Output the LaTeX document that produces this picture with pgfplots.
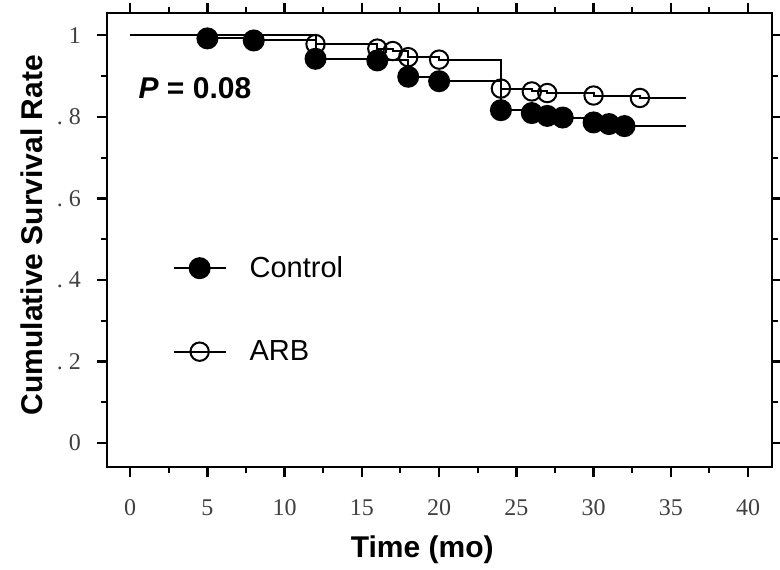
\documentclass[border=0pt]{standalone}
\usepackage{pgfplots}
\pgfplotsset{compat=1.18}
\usepackage{fontspec}
\setmainfont{Liberation Serif}
\newfontfamily\arial{Liberation Sans}
\begin{document}
\begin{tikzpicture}
\begin{axis}[
  scale only axis, width=332.5pt, height=227pt,
  xmin=-1.5, xmax=41.55, ymin=-0.058, ymax=1.055,
  xtick={0,5,...,40}, ytick={0,0.2,0.4,0.6,0.8,1},
  yticklabels={0,.\hspace{0.25em}2,.\hspace{0.25em}4,.\hspace{0.25em}6,.\hspace{0.25em}8,1},
  minor x tick num=1, minor y tick num=1,
  tick align=outside, xticklabel pos=left, yticklabel pos=left,
  major tick length=5pt, minor tick length=3pt,
  every major tick/.style={line width=1.2pt, black},
  every minor tick/.style={line width=1pt, black},
  axis line style={line width=1pt},
  /pgf/number format/assume math mode=true,
  ticklabel style={font=\fontsize{12}{14}\selectfont, text=black!75},
  xticklabel style={yshift=-8pt},
  yticklabel style={xshift=-4.5pt},
  xlabel={\arial\bfseries Time (mo)},
  ylabel={\arial\bfseries Cumulative Survival Rate},
  label style={font=\fontsize{15}{18}\selectfont},
  xlabel style={at={(axis description cs:0.474,-0.1828)}, anchor=center},
  ylabel style={at={(axis description cs:-0.1128,0.51)}, anchor=center},
  legend style={at={(axis cs:2.75,0.327)}, anchor=west, draw=none, fill=none,
    inner sep=0pt, outer sep=0pt,
    font=\arial\fontsize{14.5}{17}\selectfont, row sep=26pt,
    /tikz/every odd column/.style={column sep=9.5pt}},
  legend cell align=left,
  legend image code/.code={\draw[#1, mark indices={2}] plot coordinates {(0pt,0pt) (13pt,0pt) (26pt,0pt)};},
  reverse legend,
]
\addplot[black, line width=1pt, const plot, mark=o, mark size=4.6pt,
  mark options={solid, line width=1pt}, mark indices={2,3,4,5,6,7,8,9,10,11}]
  coordinates {(0,1) (12,0.978) (16,0.967) (17,0.961) (18,0.946) (20,0.940)
   (24,0.869) (26,0.862) (27,0.858) (30,0.852) (33,0.846) (36,0.846)};
\addlegendentry{ARB}
\addplot[black, line width=1pt, const plot, mark=*, mark size=5pt,
  mark options={solid, fill=black}, mark indices={2,3,4,5,6,7,8,9,10,11,12,13,14}]
  coordinates {(0,1) (5,0.992) (8,0.987) (12,0.942) (16,0.938) (18,0.898) (20,0.887)
   (24,0.816) (26,0.809) (27,0.802) (28,0.798) (30,0.786) (31,0.782) (32,0.777) (36,0.777)};
\addlegendentry{Control}
\node[anchor=west, inner sep=0pt, font=\arial\bfseries\fontsize{15}{18}\selectfont]
  at (axis cs:0.52,0.871) {\textit{P} = 0.08};
\coordinate (bl) at (rel axis cs:0,0);
\end{axis}
\pgfresetboundingbox
\path[use as bounding box] ([xshift=-53.5pt, yshift=-51.15pt]bl) rectangle ++(390pt,284.5pt);
\end{tikzpicture}
\end{document}
